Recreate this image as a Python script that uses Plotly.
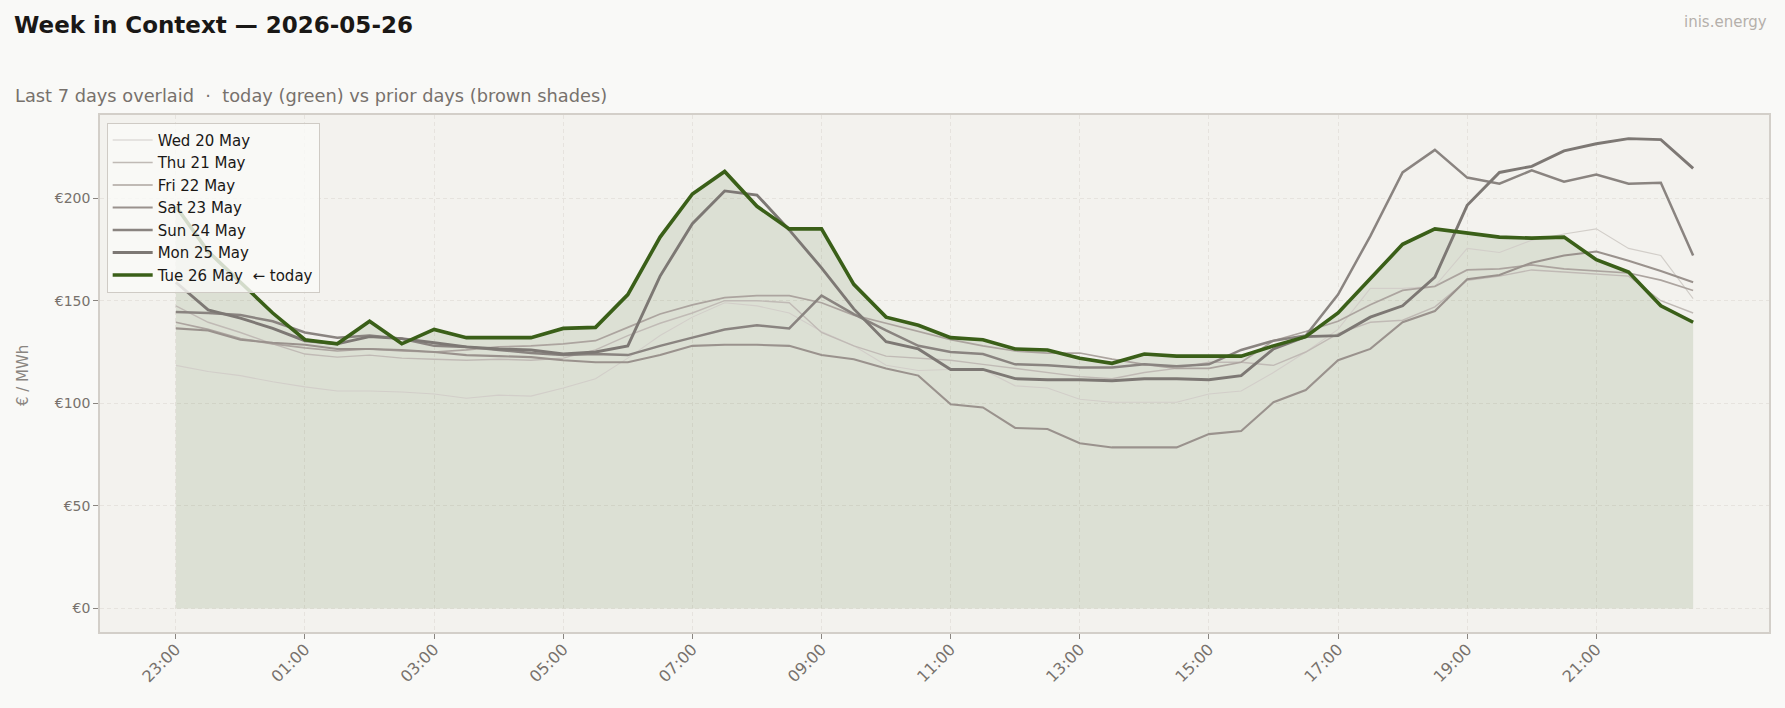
import plotly.graph_objects as go

times = ["23:00","23:30","00:00","00:30","01:00","01:30","02:00","02:30","03:00","03:30",
         "04:00","04:30","05:00","05:30","06:00","06:30","07:00","07:30","08:00","08:30",
         "09:00","09:30","10:00","10:30","11:00","11:30","12:00","12:30","13:00","13:30",
         "14:00","14:30","15:00","15:30","16:00","16:30","17:00","17:30","18:00","18:30",
         "19:00","19:30","20:00","20:30","21:00","21:30","22:00","22:30"]

tick_labels = ["23:00","01:00","03:00","05:00","07:00","09:00","11:00","13:00","15:00","17:00","19:00","21:00"]
y_ticks = [0, 50, 100, 150, 200]
y_tick_labels = ["€0", "€50", "€100", "€150", "€200"]

wed_20 = [118.5,115.5,113.5,110.5,108,106,106,105.5,104.5,102.5,104,103.5,107.5,112,122,133,142,149,147.5,144,
          135,128,118.5,116,116.5,116.5,108.5,107.5,102,100.5,100.5,100.5,104.5,106,115,125,136,156,156,157,
          175.5,173.5,179.5,182.5,185,175.5,172,151]
thu_21 = [147.5,139.5,134.5,129,124,122.5,123.5,122,121.5,121,121.5,121,122,126,133,139,144,150,150,149,
          134.5,128,123,122,121,119,117,115,113,112,115,117,120,120,118.5,125,134,139.5,140.5,147,
          160,162,165,164,163,162,150,144]
fri_22 = [139.5,136,131.5,129,127,125.5,126.5,125.5,125,126,127.5,128,129,130.5,137,143.5,148,151.5,152.5,152.5,
          149,143,139,135,131,128,125.5,124.5,124.5,121.5,119,117,117,120,130.5,135,140,148,155,157,
          165,165.5,167.5,165.5,164.5,163.5,160,155]
sat_23 = [136.5,135.5,131,129.5,128.5,126.5,126.5,126,125,123.5,123,122.5,121,120,120,123.5,128,128.5,128.5,128,
          123.5,121.5,117,113.5,99.5,98,88,87.5,80.5,78.5,78.5,78.5,85,86.5,100.5,106.5,121,126.5,139.5,145,
          160.5,162.5,168.5,172,174,169.5,164.5,159]
sun_24 = [144.5,144,143,140,134.5,132,133,131.5,128,127.5,126,124.5,123.5,124,123.5,128,132,136,138,136.5,
          152.5,143.5,135.5,128,125,124,119,118.5,117.5,117.5,119,118,119,126,130.5,133,153,181.5,212.5,223.5,
          210,207,213.5,208,211.5,207,207.5,172]
mon_25 = [159,145.5,141.5,136.5,130.5,129,132.5,131.5,129.5,127.5,126.5,126,124,125,128,162,187.5,203.5,201.5,184.5,
          166,146,130,126.5,116.5,116.5,112,111.5,111.5,111,112,112,111.5,113.5,126.5,132.5,133,142,147.5,161.5,
          196.5,212.5,215.5,223,226.5,229,228.5,214.5]
tue_26 = [196,174,159,144,131,129,140,129,136,132,132,132,136.5,137,153,181,202,213,196,185,
          185,158,142,138,132,131,126.5,126,122,119.5,124,123,123,123,128,132.5,144,161,177.5,185,
          183,181,180.5,181,170,164,147.5,139.5]

prior_names = ["Wed 20 May","Thu 21 May","Fri 22 May","Sat 23 May","Sun 24 May","Mon 25 May"]
prior_series = [wed_20, thu_21, fri_22, sat_23, sun_24, mon_25]
prior_colors = ["#d2cec9","#c0bab5","#aca49f","#9a928d","#8a8480","#7d7874"]
prior_widths = [1.1, 1.4, 1.7, 2.1, 2.5, 2.9]
today_name = "Tue 26 May\u00a0\u00a0← today"
green = "#3a5f18"
FONT = "DejaVu Sans"

fig = go.Figure()
fig.add_trace(go.Scatter(x=times, y=tue_26, mode="lines", line=dict(width=0),
                         fill="tozeroy", fillcolor="rgba(58,95,24,0.12)",
                         showlegend=False, hoverinfo="skip"))
for name, ys, c, w in zip(prior_names, prior_series, prior_colors, prior_widths):
    fig.add_trace(go.Scatter(x=times, y=ys, mode="lines", name=name,
                             line=dict(color=c, width=w)))
fig.add_trace(go.Scatter(x=times, y=tue_26, mode="lines", name=today_name,
                         line=dict(color=green, width=3.6)))

axis_common = dict(showline=True, mirror=True, linecolor="#d3cfc9", linewidth=1.5,
                   showgrid=True, gridcolor="#e6e3de", griddash="4px,3px", gridwidth=1,
                   zeroline=False, ticks="outside", ticklen=5, tickcolor="#8a8580")

fig.update_layout(
    width=1785, height=708,
    paper_bgcolor="#f9f9f7", plot_bgcolor="#f3f2ee",
    margin=dict(l=100, r=16, t=115, b=76),
    font=dict(family=FONT),
    title=dict(text="<b>Week in Context — 2026-05-26</b>", x=14/1785, xanchor="left",
               y=1-25/708, yanchor="middle",
               font=dict(family=FONT, size=23, color="#1a1816")),
    legend=dict(x=0.004, y=0.985, xanchor="left", yanchor="top",
                bgcolor="rgba(250,250,248,0.8)", bordercolor="#cfcbc5", borderwidth=1,
                font=dict(family=FONT, size=15, color="#1a1816"),
                tracegroupgap=0, itemwidth=40),
    xaxis=dict(type="category", categoryorder="array", categoryarray=times,
               range=[-2.35, 49.35], tickmode="array", tickvals=tick_labels,
               ticktext=tick_labels, tickangle=-45, ticklabelstandoff=-5,
               tickfont=dict(family=FONT, size=16, color="#77716c"), **axis_common),
    yaxis=dict(range=[-11.45, 240.5], tickmode="array", tickvals=y_ticks,
               ticktext=y_tick_labels,
               tickfont=dict(family=FONT, size=14, color="#77716c"), **axis_common),
    annotations=[
        dict(text="Last 7 days overlaid\u00a0\u00a0·\u00a0\u00a0today (green) vs prior days (brown shades)",
             xref="paper", yref="paper", x=-87/1669, y=(632-95)/517, xanchor="left", yanchor="middle",
             showarrow=False, font=dict(family=FONT, size=17.8, color="#77716c")),
        dict(text="inis.energy", xref="paper", yref="paper", x=1.0, y=(632-22)/517,
             xanchor="right", yanchor="middle", showarrow=False,
             font=dict(family=FONT, size=15, color="#b5b0ab")),
        dict(text="€ / MWh", xref="paper", yref="paper", x=-77/1669, y=0.495,
             xanchor="center", yanchor="middle", textangle=-90, showarrow=False,
             font=dict(family=FONT, size=15, color="#8a8580")),
    ],
)

fig.write_html("out.html")
